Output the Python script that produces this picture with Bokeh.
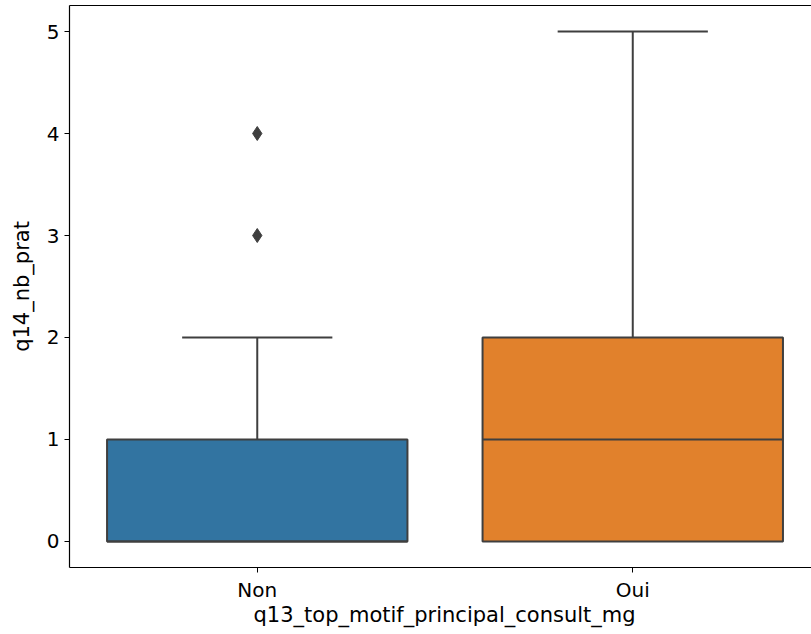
from bokeh.plotting import figure
from bokeh.models import FixedTicker, Range1d, LinearAxis, Title
from bokeh.embed import file_html
from bokeh.resources import INLINE

categories = ["Non", "Oui"]
q1 = [0, 0]
medians = [0, 1]
q3 = [1, 2]
whisker_low = [0, 0]
whisker_high = [2, 5]
outlier_cat = [0, 0]
outlier_val = [3, 4]
colors = ["#3274a1", "#e1812c"]
y_ticks = [0, 1, 2, 3, 4, 5]
x_label = "q13_top_motif_principal_consult_mg"
y_label = "q14_nb_prat"

pos = list(range(len(categories)))
edge = "#3f3f3f"
font = "DejaVu Sans"

p = figure(width=811, height=630, output_backend="svg", toolbar_location=None,
           x_range=Range1d(-0.5, 1.476), y_range=Range1d(-0.255, 5.255),
           min_border_left=69, min_border_right=0, min_border_top=5, min_border_bottom=63)
p.outline_line_color = None
p.xgrid.visible = False
p.ygrid.visible = False

# boxes
p.vbar(x=pos, width=0.8, bottom=q1, top=q3, fill_color=colors, line_color=edge, line_width=2)
# whiskers
p.segment(x0=pos, x1=pos, y0=q3, y1=whisker_high, line_color=edge, line_width=2)
p.segment(x0=pos, x1=pos, y0=q1, y1=whisker_low, line_color=edge, line_width=2)
# caps
p.segment(x0=[x - 0.2 for x in pos], x1=[x + 0.2 for x in pos], y0=whisker_high, y1=whisker_high,
          line_color=edge, line_width=2)
# medians
p.segment(x0=[x - 0.4 for x in pos], x1=[x + 0.4 for x in pos], y0=medians, y1=medians,
          line_color=edge, line_width=2)
# outliers
p.scatter(x=outlier_cat, y=outlier_val, marker="diamond", size=14, fill_color=edge, line_color=edge)

# axes
p.xaxis.ticker = FixedTicker(ticks=pos)
p.xaxis.major_label_overrides = {i: c for i, c in enumerate(categories)}
p.yaxis.ticker = FixedTicker(ticks=y_ticks)
p.yaxis.axis_label = y_label
for ax in (p.xaxis[0], p.yaxis[0]):
    ax.axis_line_color = "black"
    ax.axis_line_width = 1.2
    ax.major_tick_line_color = "black"
    ax.major_tick_out = 5
    ax.major_tick_in = 0
    ax.minor_tick_line_color = None
    ax.major_label_text_font = font
    ax.major_label_text_font_size = "20px"
    ax.major_label_text_color = "black"
    ax.axis_label_text_font = font
    ax.axis_label_text_font_size = "21px"
    ax.axis_label_text_font_style = "normal"
    ax.axis_label_text_color = "black"
p.xaxis.major_label_standoff = 5
p.yaxis.major_label_standoff = 5
p.yaxis.axis_label_standoff = 10

xt = Title(text=x_label, align="left", offset=184, standoff=-8,
           text_font=font, text_font_size="21px", text_font_style="normal", text_color="black")
p.add_layout(xt, "below")

top = LinearAxis(ticker=FixedTicker(ticks=[]), major_label_text_font_size="0px",
                 axis_line_color="black", axis_line_width=1.2)
top.minor_tick_line_color = None
top.major_tick_line_color = None
top.major_label_standoff = 0
p.add_layout(top, "above")

open("out.html", "w").write(file_html(p, INLINE))
